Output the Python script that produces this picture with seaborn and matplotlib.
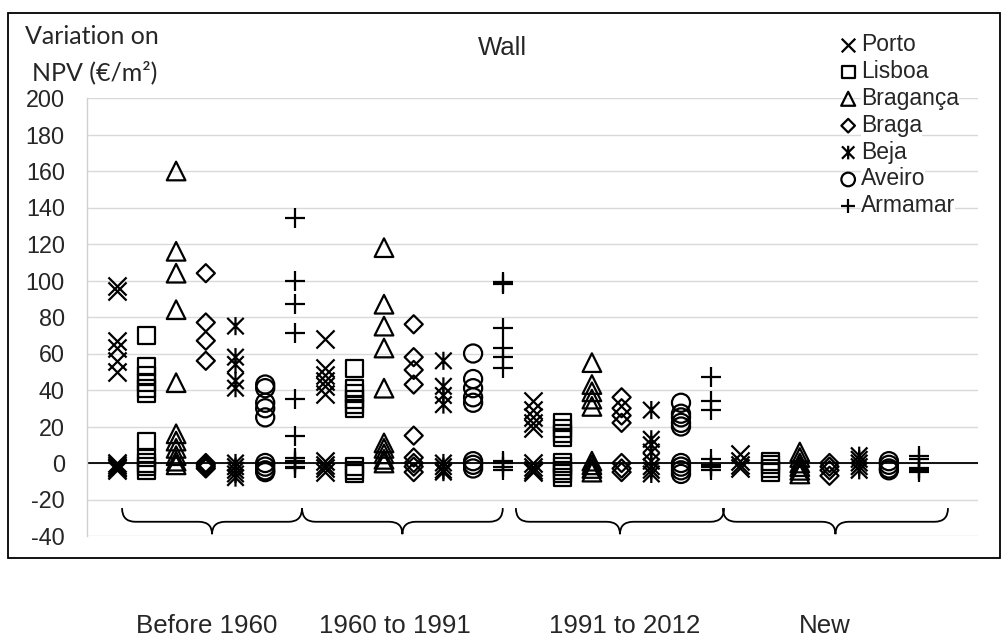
import numpy as np
import pandas as pd
import matplotlib
matplotlib.use("Agg")
import matplotlib.pyplot as plt
import seaborn as sns
from matplotlib.path import Path
from matplotlib.patches import PathPatch, Rectangle
from matplotlib.transforms import blended_transform_factory
from matplotlib.font_manager import FontProperties

# ---------------- data ----------------
periods = ["Before 1960", "1960 to 1991", "1991 to 2012", "New"]
cities = ["Porto", "Lisboa", "Bragança", "Braga", "Beja", "Aveiro", "Armamar"]

porto = [[97, 94, 67, 63, 56, 50, 0, -1, -2, -3, -4],
         [68, 52, 48, 45, 42, 38, 1, -1, -3, -5],
         [34, 29, 25, 22, 19, 0, -2, -4, -5],
         [5, 1, -1, -3]]
lisboa = [[70, 53, 48, 44, 41, 38, 12, 3, 0, -2, -4],
          [52, 41, 38, 35, 32, 30, -2, -4, -6],
          [22, 19, 16, 14, 0, -2, -4, -6, -8],
          [1, -1, -3, -5]]
braganca = [[160, 116, 104, 84, 44, 16, 12, 8, 4, 1, -1],
            [118, 87, 75, 63, 41, 11, 8, 5, 2, 0],
            [55, 43, 39, 35, 31, 1, -1, -3, -5],
            [6, 3, 0, -2, -4, -6]]
braga = [[104, 77, 67, 56, 0, -1, -2, -3],
         [76, 58, 51, 43, 15, 3, 0, -2, -5],
         [36, 30, 26, 22, 0, -3, -5],
         [0, -2, -4, -7]]
beja = [[75, 58, 54, 45, 41, 0, -2, -4, -6, -8],
        [56, 42, 37, 32, 0, -2, -4, -5],
        [29, 13, 10, 6, 1, -2, -4, -6],
        [4, 2, 0, -2, -4]]
aveiro = [[43, 41, 33, 30, 25, 0, -2, -4, -5],
          [60, 46, 41, 36, 33, 1, -1, -3],
          [33, 27, 25, 22, 20, 0, -2, -4, -6],
          [1, -1, -3, -4]]
armamar = [[134, 100, 87, 71, 35, 15, 3, 1, 0, -2, -3],
           [99, 98, 74, 63, 58, 52, 1, 0, -2, -4],
           [47, 34, 29, 2, -1, -2, -4],
           [4, 2, -3, -4, -5]]

yticks = [-40, -20, 0, 20, 40, 60, 80, 100, 120, 140, 160, 180, 200]
title = "Wall"
ylabel_lines = ["Variation on", "NPV (€/m²)"]

series = [porto, lisboa, braganca, braga, beja, aveiro, armamar]
rows = []
for ci, (city, vals) in enumerate(zip(cities, series)):
    for pi, period in enumerate(periods):
        for v in vals[pi]:
            rows.append({"city": city, "period": period,
                         "pos": pi * len(cities) + ci + 1, "value": v})
df = pd.DataFrame(rows)

# ---------------- style ----------------
sns.set_style("white")
plt.rcParams["font.family"] = ["Liberation Sans", "DejaVu Sans"]
plt.rcParams["axes.unicode_minus"] = False

fig = plt.figure(figsize=(10.08, 6.37), dpi=100)
W, H = 1008, 637
ax = fig.add_axes([87 / W, 101 / H, 891 / W, 438 / H])

asterisk = Path([(-0.5, -0.5), (0.5, 0.5), (-0.5, 0.5), (0.5, -0.5), (0, -0.55), (0, 0.55)],
                [Path.MOVETO, Path.LINETO, Path.MOVETO, Path.LINETO, Path.MOVETO, Path.LINETO])
marker_spec = {
    "Porto": ("x", 170, False),
    "Lisboa": ("s", 150, True),
    "Bragança": ("^", 180, True),
    "Braga": ("D", 85, True),
    "Beja": (asterisk, 170, True),
    "Aveiro": ("o", 170, True),
    "Armamar": ("+", 190, False),
}

handles = []
for city in cities:
    m, s, filled = marker_spec[city]
    sub = df[df["city"] == city]
    kw = dict(marker=m, s=s, linewidth=1.6, label=city, ax=ax, zorder=3, legend=False)
    if filled:
        kw.update(facecolor="none", edgecolor="black", color="black")
    else:
        kw.update(color="black")
    sns.scatterplot(data=sub, x="pos", y="value", **kw)
    handles.append(ax.collections[-1])

ax.set_xlim(0, 30)
ax.set_ylim(-40, 200)
ax.set_xticks([])
ax.set_yticks(yticks)
ax.set_xlabel("")
ax.set_ylabel("")
ax.tick_params(axis="y", length=0, pad=16, labelsize=16.8)
ax.grid(axis="y", color="#d9d9d9", linewidth=1.0)
ax.set_axisbelow(True)
ax.axhline(0, color="black", linewidth=1.3, zorder=2)
for sp in ["top", "right", "bottom"]:
    ax.spines[sp].set_visible(False)
ax.spines["left"].set_color("#d0d0d0")
ax.spines["left"].set_linewidth(1.0)

# braces under each period group
brace_spans = [(1.18, 7.24), (7.24, 14.0), (14.44, 21.45), (21.41, 28.99)]
yt, ym, yb = -24.7, -32.2, -39.0
r = 0.45
for x0, x1 in brace_spans:
    xm = (x0 + x1) / 2
    verts = [(x0, yt), (x0, ym), (x0 + r, ym),
             (xm - r, ym),
             (xm, ym), (xm, yb),
             (xm, ym), (xm + r, ym),
             (x1 - r, ym),
             (x1, ym), (x1, yt)]
    codes = [Path.MOVETO, Path.CURVE3, Path.CURVE3,
             Path.LINETO,
             Path.CURVE3, Path.CURVE3,
             Path.CURVE3, Path.CURVE3,
             Path.LINETO,
             Path.CURVE3, Path.CURVE3]
    ax.add_patch(PathPatch(Path(verts, codes), fill=False, edgecolor="black",
                           linewidth=1.3, clip_on=False, zorder=3))

# category labels below the chart box
label_x = [4.04, 10.37, 18.11, 24.85]
trans = blended_transform_factory(ax.transData, fig.transFigure)
for lx, lab in zip(label_x, periods):
    fig.text(lx, 1 - 626 / H, lab, transform=trans, ha="center", va="center",
             fontsize=18.6)

# title and axis title
fig.text(502 / W, 1 - 48 / H, title, ha="center", va="center", fontsize=18.5)
fig.text(92 / W, 1 - 37 / H, ylabel_lines[0], ha="center", va="center",
         fontsize=18, family=["Lato", "DejaVu Sans"])
fig.text(95 / W, 1 - 72 / H, ylabel_lines[1], ha="center", va="center",
         fontsize=18, family=["Lato", "DejaVu Sans"])

# legend
leg = ax.legend(handles, cities, loc="upper left",
                bbox_to_anchor=(839 / W, 1 - 33 / H), bbox_transform=fig.transFigure,
                frameon=False, handlelength=0.8, handletextpad=0.15,
                labelspacing=0.17, borderpad=0, borderaxespad=0, markerscale=0.75,
                prop=FontProperties(family="Liberation Sans", size=16.5))
for t in leg.get_texts():
    t.set_bbox(dict(facecolor="white", edgecolor="none", pad=0))

# outer chart border
fig.patches.append(Rectangle((8 / W, 79 / H), 992 / W, 545 / H, transform=fig.transFigure,
                             fill=False, edgecolor="black", linewidth=1.3))

fig.savefig("out.png", dpi=100, facecolor="white")
